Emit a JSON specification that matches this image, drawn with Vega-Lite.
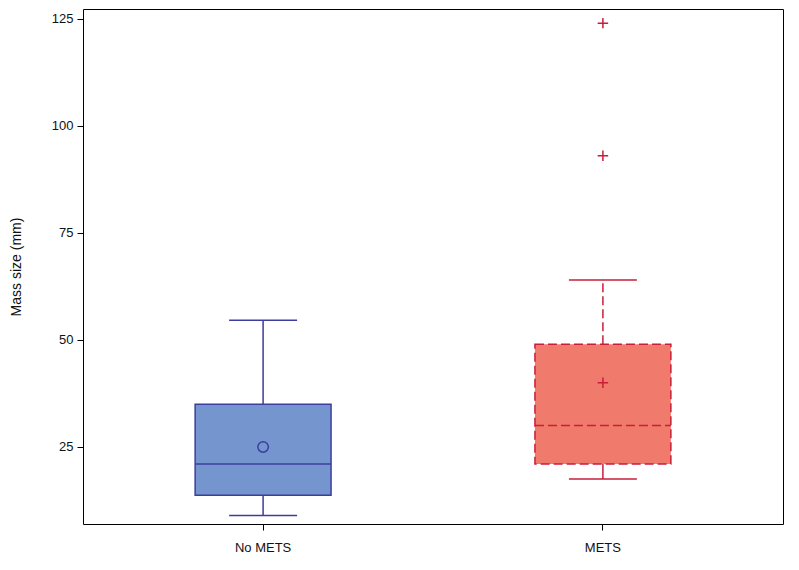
{
  "$schema": "https://vega.github.io/schema/vega-lite/v6.json",
  "width": 700,
  "height": 515,
  "autosize": "none",
  "padding": {"left": 83, "top": 9, "right": 16, "bottom": 46},
  "background": "white",
  "config": {
    "view": {"stroke": "#000000", "strokeWidth": 1},
    "font": "Liberation Sans",
    "axis": {
      "grid": false,
      "domain": false,
      "tickColor": "#000000",
      "tickSize": 6,
      "labelColor": "#111111",
      "labelFontSize": 13,
      "labelPadding": 4,
      "titleColor": "#111111",
      "titleFontSize": 14,
      "titleFontWeight": "normal"
    }
  },
  "datasets": {
    "summary": [
      {"group": "No METS", "lower": 9, "q1": 13.7, "median": 21, "q3": 35, "upper": 54.6, "mean": 25},
      {"group": "METS", "lower": 17.5, "q1": 21, "median": 30, "q3": 49, "upper": 64, "mean": 40}
    ],
    "outliers": [
      {"group": "METS", "value": 93},
      {"group": "METS", "value": 124}
    ]
  },
  "encoding": {
    "x": {
      "field": "group",
      "type": "nominal",
      "scale": {"domain": ["No METS", "METS"], "paddingInner": 0, "paddingOuter": 0.03},
      "axis": {"title": null, "labelAngle": 0, "labelPadding": 11}
    }
  },
  "layer": [
    {
      "data": {"name": "summary"},
      "mark": {"type": "bar", "width": {"band": 0.4}, "strokeWidth": 1.5, "opacity": 1},
      "encoding": {
        "y": {"field": "q1", "type": "quantitative", "title": "Mass size (mm)",
              "scale": {"domain": [7, 127.3], "nice": false, "zero": false},
              "axis": {"values": [25, 50, 75, 100, 125], "titlePadding": 28}},
        "y2": {"field": "q3"},
        "color": {"field": "group", "type": "nominal", "legend": null,
                  "scale": {"domain": ["No METS", "METS"], "range": ["#7495CD", "#F07B6C"]}},
        "stroke": {"field": "group", "type": "nominal", "legend": null,
                   "scale": {"domain": ["No METS", "METS"], "range": ["#3D3D9E", "#C81E3A"]}},
        "strokeDash": {"field": "group", "type": "nominal", "legend": null,
                       "scale": {"domain": ["No METS", "METS"], "range": [[1, 0], [9, 4]]}}
      }
    },
    {
      "data": {"name": "summary"},
      "mark": {"type": "rule", "strokeWidth": 1.5},
      "encoding": {
        "x": {"field": "group", "type": "nominal", "bandPosition": 0.3},
        "x2": {"field": "group", "bandPosition": 0.7},
        "y": {"field": "median", "type": "quantitative", "title": "Mass size (mm)"},
        "stroke": {"field": "group", "type": "nominal", "legend": null},
        "strokeDash": {"field": "group", "type": "nominal", "legend": null}
      }
    },
    {
      "data": {"name": "summary"},
      "mark": {"type": "rule", "strokeWidth": 1.5},
      "encoding": {
        "y": {"field": "q3", "type": "quantitative", "title": "Mass size (mm)"},
        "y2": {"field": "upper"},
        "stroke": {"field": "group", "type": "nominal", "legend": null},
        "strokeDash": {"field": "group", "type": "nominal", "legend": null}
      }
    },
    {
      "data": {"name": "summary"},
      "mark": {"type": "rule", "strokeWidth": 1.5},
      "encoding": {
        "y": {"field": "lower", "type": "quantitative", "title": "Mass size (mm)"},
        "y2": {"field": "q1"},
        "stroke": {"field": "group", "type": "nominal", "legend": null}
      }
    },
    {
      "data": {"name": "summary"},
      "mark": {"type": "rule", "strokeWidth": 1.5},
      "encoding": {
        "x": {"field": "group", "type": "nominal", "bandPosition": 0.4},
        "x2": {"field": "group", "bandPosition": 0.6},
        "y": {"field": "upper", "type": "quantitative", "title": "Mass size (mm)"},
        "stroke": {"field": "group", "type": "nominal", "legend": null}
      }
    },
    {
      "data": {"name": "summary"},
      "mark": {"type": "rule", "strokeWidth": 1.5},
      "encoding": {
        "x": {"field": "group", "type": "nominal", "bandPosition": 0.4},
        "x2": {"field": "group", "bandPosition": 0.6},
        "y": {"field": "lower", "type": "quantitative", "title": "Mass size (mm)"},
        "stroke": {"field": "group", "type": "nominal", "legend": null}
      }
    },
    {
      "data": {"name": "summary"},
      "mark": {"type": "point", "filled": false, "strokeWidth": 1.5, "size": 110, "opacity": 1},
      "encoding": {
        "y": {"field": "mean", "type": "quantitative", "title": "Mass size (mm)"},
        "shape": {"field": "group", "type": "nominal", "legend": null,
                  "scale": {"domain": ["No METS", "METS"], "range": ["circle", "M-1,0L1,0M0,-1L0,1"]}},
        "stroke": {"field": "group", "type": "nominal", "legend": null}
      }
    },
    {
      "data": {"name": "outliers"},
      "mark": {"type": "point", "filled": false, "strokeWidth": 1.5, "size": 110, "opacity": 1, "shape": "M-1,0L1,0M0,-1L0,1"},
      "encoding": {
        "y": {"field": "value", "type": "quantitative", "title": "Mass size (mm)"},
        "stroke": {"field": "group", "type": "nominal", "legend": null}
      }
    }
  ]
}
